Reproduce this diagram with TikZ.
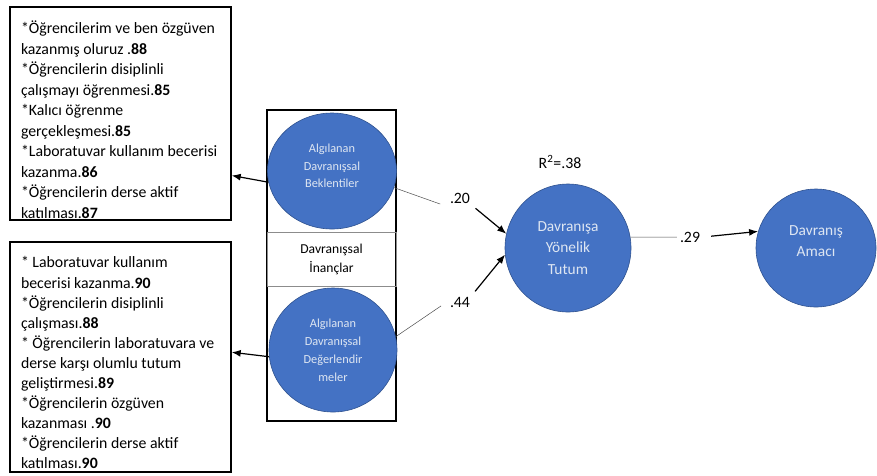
\documentclass[tikz,border=0pt]{standalone}
\usepackage{fontspec}
\setmainfont{Carlito}
\usetikzlibrary{shapes.geometric,arrows.meta}

\definecolor{ovalblue}{RGB}{68,114,196}
\definecolor{ovalline}{RGB}{47,82,143}
\definecolor{ovaltext}{RGB}{222,230,242}

\tikzset{
  itembox/.style={draw=black, line width=1.4pt, align=flush left, text width=199pt,
    inner xsep=11pt, inner ysep=0pt, minimum width=221pt,
    font=\fontsize{15.8}{20.5}\selectfont},
  oval/.style={ellipse, fill=ovalblue, draw=ovalline, line width=0.6pt,
    inner sep=0pt, align=center, text=ovaltext},
  coef/.style={inner sep=3pt, font=\fontsize{15.8}{18}\selectfont},
  thinln/.style={draw=black!70, line width=0.5pt},
  arr/.style={line width=1.2pt, -{Latex[length=9pt,width=7pt]}}
}

\begin{document}
\begin{tikzpicture}[x=1pt,y=1pt]
    \useasboundingbox (0,0) rectangle (877,-475);

    % item lists
    \node[itembox, minimum height=213pt] (box1) at (120.5,-113.5) {%
      \rule{0pt}{25pt}*Öğrencilerim ve ben özgüven\\ kazanmış oluruz .\textbf{88}\\
      {*}Öğrencilerin disiplinli\\ çalışmayı öğrenmesi.\textbf{85}\\
      {*}Kalıcı öğrenme\\ gerçekleşmesi.\textbf{85}\\
      {*}Laboratuvar kullanım becerisi\\ kazanma.\textbf{86}\\
      {*}Öğrencilerin derse aktif\\ katılması.\textbf{87}};
    \node[itembox, minimum height=230pt, font=\fontsize{15.8}{20.1}\selectfont]
      (box2) at (120.5,-357) {%
      \rule{0pt}{23pt}* Laboratuvar kullanım\\ becerisi kazanma.\textbf{90}\\
      {*}Öğrencilerin disiplinli\\ çalışması.\textbf{88}\\
      {*} Öğrencilerin laboratuvara ve\\ derse karşı olumlu tutum\\ geliştirmesi.\textbf{89}\\
      {*}Öğrencilerin özgüven\\ kazanması .\textbf{90}\\
      {*}Öğrencilerin derse aktif\\ katılması.\textbf{90}};

    % beliefs frame
    \draw[line width=1.4pt] (267,-110) rectangle (396,-421);
    \node[draw=black!45, line width=0.5pt, minimum width=129pt, minimum height=54pt,
      align=center, font=\fontsize{13.6}{19}\selectfont] (inanc) at (331.5,-259)
      {Davranışsal\\ İnançlar};
    \node[oval, minimum width=129pt, minimum height=116pt,
      font=\fontsize{12.3}{17.5}\selectfont] (bek) at (332,-171)
      {Algılanan\\ Davranışsal\\ Beklentiler\\[-7.5pt]};
    \node[oval, minimum width=128pt, minimum height=124pt,
      font=\fontsize{12.3}{18}\selectfont] (deg) at (333,-350)
      {Algılanan\\ Davranışsal\\ Değerlendir\\ meler};

    % attitude and intention
    \node[oval, minimum width=126pt, minimum height=128pt,
      font=\fontsize{15.4}{21.7}\selectfont] (tutum) at (568,-248)
      {Davranışa\\ Yönelik\\ Tutum};
    \node[oval, minimum width=120pt, minimum height=118pt,
      font=\fontsize{15.4}{21.7}\selectfont] (amac) at (816,-248)
      {Davranış\\ Amacı\\[-7.7pt]};

    % coefficients
    \node[coef] (l20) at (460,-198) {.20};
    \node[coef] (l44) at (460,-302) {.44};
    \node[coef] (l29) at (690,-237) {.29};
    \node[coef] (r2) at (560,-162) {R\textsuperscript{2}=.38};

    % connectors
    \draw[arr] (bek.190) -- (box1.east |- bek.184);
    \draw[arr] (deg.186) -- (box2.east |- deg.182);
    \draw[thinln, shorten >=7pt] (bek.-15) -- (l20.south west);
    \draw[arr, shorten <=3pt] (l20.south east) -- (tutum.167);
    \draw[thinln, shorten >=7pt] (deg.12) -- (l44.west);
    \draw[arr, shorten <=3pt] (l44.north east) -- (tutum.186);
    \draw[thinln] (tutum.10) -- (l29);
    \draw[arr, shorten <=8pt] (l29.east) -- (amac.164);
\end{tikzpicture}
\end{document}
